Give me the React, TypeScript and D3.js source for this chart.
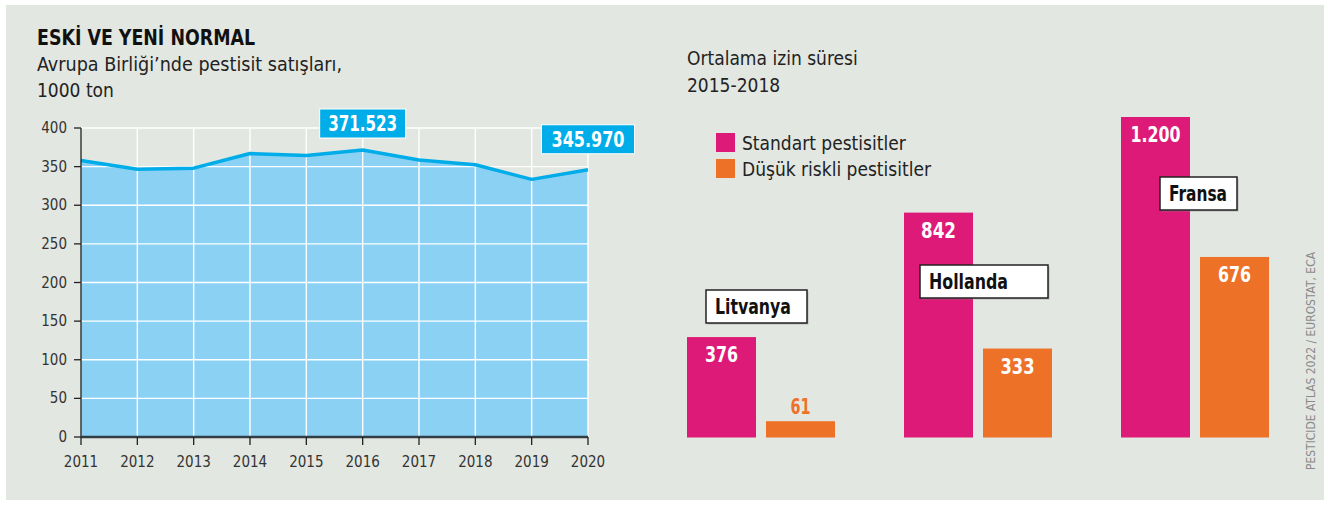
import React from "react";
import * as d3 from "d3";

const years = [2011, 2012, 2013, 2014, 2015, 2016, 2017, 2018, 2019, 2020];
const sales = [358, 346.5, 348, 367, 364.5, 371.523, 358.5, 352.5, 333.5, 345.97];
const yTicks = [0, 50, 100, 150, 200, 250, 300, 350, 400];
const calloutYears = [2016, 2020];
const calloutLabels = ["371.523", "345.970"];

const countries = ["Litvanya", "Hollanda", "Fransa"];
const standard = [376, 842, 1200];
const lowRisk = [61, 333, 676];
const standardLabels = ["376", "842", "1.200"];
const lowRiskLabels = ["61", "333", "676"];
const legendLabels = ["Standart pestisitler", "Düşük riskli pestisitler"];

const FONT = "'DejaVu Sans Condensed', 'Roboto', sans-serif";
const BG = "#e3e7e1";
const MAGENTA = "#dd1a77";
const ORANGE = "#ee7128";
const BLUE = "#00ade9";
const FILL = "#8bd1f4";

// layout (text widths in px, box geometry) kept apart from data
const calloutW = [86, 93];
const calloutTextW = [69, 73];
const calloutLift = [12, 16];
const countryBox = [
  { dx: 19, y: 290, w: 101, tw: 76 },
  { dx: 16, y: 265, w: 128, tw: 79 },
  { dx: 39, y: 177, w: 77, tw: 58 },
];
const standardTW = [33, 35, 50];
const lowTW = [20, 34, 33];

export default function App() {
  const x = d3.scaleLinear().domain([2011, 2020]).range([81, 588]);
  const y = d3.scaleLinear().domain([0, 400]).range([437, 128]);
  const data = years.map((yr, i) => ({ yr, v: sales[i] }));
  const area = d3
    .area<{ yr: number; v: number }>()
    .x((d) => x(d.yr))
    .y0(y(0))
    .y1((d) => y(d.v));
  const line = d3
    .line<{ yr: number; v: number }>()
    .x((d) => x(d.yr))
    .y((d) => y(d.v));

  const groups = d3.scaleBand().domain(countries).range([687, 1338]).paddingInner(0).paddingOuter(0);
  const barW = 69;
  const barGap = 10;
  const by = d3.scaleLinear().domain([0, 1200]).range([437.5, 117]);

  return (
    <svg
      width={1330}
      height={506}
      style={{ position: "absolute", left: 0, top: 0, fontFamily: FONT }}
    >
      <rect x={0} y={0} width={1330} height={506} fill="#ffffff" />
      <rect x={6} y={5} width={1318} height={495} fill={BG} />

      {/* Titles */}
      <text x={37} y={45} fontSize={21} fontWeight="bold" fill="#111" textLength={218} lengthAdjust="spacingAndGlyphs">
        ESKİ VE YENİ NORMAL
      </text>
      <text x={37} y={71} fontSize={19} fill="#222" textLength={305} lengthAdjust="spacingAndGlyphs">
        Avrupa Birliği’nde pestisit satışları,
      </text>
      <text x={37} y={97} fontSize={19} fill="#222">
        1000 ton
      </text>

      {/* Left chart */}
      <path d={area(data) || ""} fill={FILL} />
      {yTicks.slice(1).map((t) => (
        <line key={"hg" + t} x1={x(2011)} x2={x(2020)} y1={y(t)} y2={y(t)} stroke="#fff" strokeWidth={1.4} />
      ))}
      {years.slice(1).map((yr) => (
        <line key={"vg" + yr} x1={x(yr)} x2={x(yr)} y1={y(400)} y2={y(0)} stroke="#fff" strokeWidth={1.4} />
      ))}
      <path d={line(data) || ""} fill="none" stroke={BLUE} strokeWidth={3.5} strokeLinejoin="round" />
      <line x1={x(2011)} x2={x(2011)} y1={y(400)} y2={y(0)} stroke="#222" strokeWidth={1.3} />
      {yTicks.map((t) => (
        <g key={"yt" + t}>
          <line x1={x(2011) - 7} x2={x(2011)} y1={y(t)} y2={y(t)} stroke="#222" strokeWidth={1.3} />
          <text x={x(2011) - 14} y={y(t) + 5} fontSize={15} textAnchor="end" fill="#333">
            {t}
          </text>
        </g>
      ))}
      <line x1={x(2011)} x2={x(2020)} y1={y(0)} y2={y(0)} stroke="#333d44" strokeWidth={2.5} />
      {years.map((yr) => (
        <g key={"xt" + yr}>
          <line x1={x(yr)} x2={x(yr)} y1={y(0)} y2={y(0) + 8} stroke="#222" strokeWidth={1.3} />
          <text x={x(yr)} y={467} fontSize={15} textAnchor="middle" fill="#333">
            {yr}
          </text>
        </g>
      ))}
      {calloutYears.map((yr, i) => {
        const v = sales[years.indexOf(yr)];
        const cx = x(yr);
        const w = calloutW[i];
        const bottom = y(v) - calloutLift[i];
        return (
          <g key={"co" + yr}>
            <rect x={cx - w / 2} y={bottom - 29} width={w} height={29} fill={BLUE} stroke="#fff" strokeWidth={1} />
            <text
              x={cx - calloutTextW[i] / 2}
              y={bottom - 7}
              fontSize={22}
              fontWeight="bold"
              fill="#fff"
              textLength={calloutTextW[i]}
              lengthAdjust="spacingAndGlyphs"
            >
              {calloutLabels[i]}
            </text>
          </g>
        );
      })}

      {/* Right chart */}
      <text x={687} y={65} fontSize={19} fill="#222">
        Ortalama izin süresi
      </text>
      <text x={687} y={92} fontSize={19} fill="#222">
        2015-2018
      </text>
      {[MAGENTA, ORANGE].map((c, i) => (
        <g key={"lg" + i}>
          <rect x={716} y={133 + i * 26} width={19} height={19} fill={c} />
          <text x={742} y={150 + i * 26} fontSize={19} fill="#222">
            {legendLabels[i]}
          </text>
        </g>
      ))}
      {countries.map((c, i) => {
        const gx = groups(c) as number;
        const x2 = gx + barW + barGap;
        const lowInside = by(0) - by(lowRisk[i]) > 40;
        return (
          <g key={c}>
            <rect x={gx} y={by(standard[i])} width={barW} height={by(0) - by(standard[i])} fill={MAGENTA} />
            <rect x={x2} y={by(lowRisk[i])} width={barW} height={by(0) - by(lowRisk[i])} fill={ORANGE} />
            <text
              x={gx + barW / 2 - standardTW[i] / 2}
              y={by(standard[i]) + 25}
              fontSize={22}
              fontWeight="bold"
              fill="#fff"
              textLength={standardTW[i]}
              lengthAdjust="spacingAndGlyphs"
            >
              {standardLabels[i]}
            </text>
            <text
              x={x2 + barW / 2 - lowTW[i] / 2}
              y={lowInside ? by(lowRisk[i]) + 25 : by(lowRisk[i]) - 7}
              fontSize={22}
              fontWeight="bold"
              fill={lowInside ? "#fff" : ORANGE}
              textLength={lowTW[i]}
              lengthAdjust="spacingAndGlyphs"
            >
              {lowRiskLabels[i]}
            </text>
            <rect x={gx + countryBox[i].dx + 1.5} y={countryBox[i].y + 1.5} width={countryBox[i].w} height={33} fill="#888" opacity={0.5} />
            <rect x={gx + countryBox[i].dx} y={countryBox[i].y} width={countryBox[i].w} height={33} fill="#fff" stroke="#222" strokeWidth={1.5} />
            <text
              x={gx + countryBox[i].dx + 9}
              y={countryBox[i].y + 24}
              fontSize={22}
              fontWeight="bold"
              fill="#111"
              textLength={countryBox[i].tw}
              lengthAdjust="spacingAndGlyphs"
            >
              {c}
            </text>
          </g>
        );
      })}

      <text
        transform="translate(1315,470) rotate(-90)"
        fontSize={13}
        fill="#8a8a8a"
        textLength={218}
        lengthAdjust="spacingAndGlyphs"
      >
        PESTICIDE ATLAS 2022 / EUROSTAT, ECA
      </text>
    </svg>
  );
}
